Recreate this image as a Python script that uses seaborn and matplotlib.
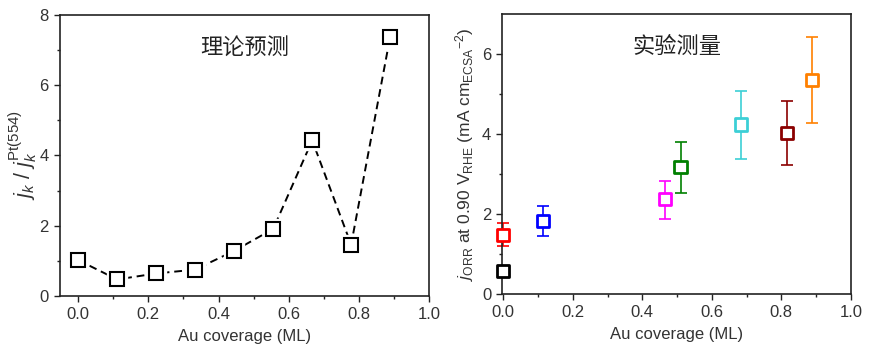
import numpy as np
import pandas as pd
import matplotlib
matplotlib.use("Agg")
import matplotlib.pyplot as plt
import seaborn as sns

# ---- data (left: theory) ----
theory_x = [0.0, 0.111, 0.222, 0.333, 0.444, 0.556, 0.667, 0.778, 0.889]
theory_y = [1.02, 0.47, 0.64, 0.75, 1.28, 1.91, 4.43, 1.46, 7.37]

# ---- data (right: experiment) ----
exp_x = [0.0, 0.0, 0.114, 0.465, 0.51, 0.684, 0.817, 0.889]
exp_y = [0.56, 1.48, 1.83, 2.37, 3.18, 4.24, 4.03, 5.36]
exp_lo = [0.56, 1.185, 1.46, 1.88, 2.53, 3.38, 3.22, 4.28]
exp_hi = [0.56, 1.785, 2.19, 2.83, 3.81, 5.08, 4.84, 6.44]
exp_has_err = [False, True, True, True, True, True, True, True]
exp_colors = ["#000000", "#FF0000", "#0000FF", "#FF00FF", "#008000", "#3CCFD6", "#8B0000", "#FF8000"]

sns.set_theme(style="white")
plt.rcParams["font.family"] = ["Liberation Sans", "Noto Sans CJK SC", "DejaVu Sans"]
plt.rcParams["mathtext.fontset"] = "custom"
plt.rcParams["mathtext.rm"] = "Liberation Sans"
plt.rcParams["mathtext.it"] = "Liberation Sans:italic"
plt.rcParams["mathtext.bf"] = "Liberation Sans:bold"

fig = plt.figure(figsize=(8.69, 3.57), dpi=100)
ax1 = fig.add_axes([0.069, 0.171, 0.4247, 0.787])
ax2 = fig.add_axes([0.578, 0.177, 0.401, 0.783])

for ax in (ax1, ax2):
    for s in ax.spines.values():
        s.set_visible(True)
        s.set_color("#222222")
        s.set_linewidth(1.2)
    ax.tick_params(axis="both", which="major", direction="out", length=4, width=1,
                   labelsize=12, colors="#222222", labelcolor="#333333",
                   bottom=True, left=True, top=False, right=False, pad=4)
    ax.tick_params(axis="both", which="minor", direction="out", length=2.5, width=1,
                   colors="#222222", bottom=True, left=True, top=False, right=False)
    ax.set_xlim(-0.052 if ax is ax1 else -0.003, 1.0)
    ax.set_xticks([0.0, 0.2, 0.4, 0.6, 0.8, 1.0])
    ax.set_xticklabels(["0.0", "0.2", "0.4", "0.6", "0.8", "1.0"])
    ax.set_xticks(np.arange(0.1, 1.0, 0.2), minor=True)
    ax.grid(False)

# ---- left panel ----
df_t = pd.DataFrame({"x": theory_x, "y": theory_y})
sns.lineplot(data=df_t, x="x", y="y", ax=ax1, color="black", linewidth=1.4,
             linestyle=(0, (4, 2.5)), zorder=1)
ax1.plot(theory_x, theory_y, linestyle="none", marker="s", markersize=14,
         markerfacecolor="white", markeredgecolor="white", zorder=2)
ax1.plot(theory_x, theory_y, linestyle="none", marker="s", markersize=9.5,
         markerfacecolor="white", markeredgecolor="black", markeredgewidth=1.5, zorder=3)
ax1.set_ylim(0, 8)
ax1.set_yticks([0, 2, 4, 6, 8])
ax1.set_yticks([1, 3, 5, 7], minor=True)
ax1.set_xlabel("Au coverage (ML)", fontsize=12, color="#333333", labelpad=5)
ax1.set_ylabel(r"$j_k$ / $j_k^{\mathrm{Pt(554)}}$", fontsize=15.5, color="#333333", labelpad=0)
ax1.text(0.5, 0.885, "理论预测", transform=ax1.transAxes, fontsize=16,
         family=["Noto Sans CJK SC"], ha="center", va="center", color="#222222")

# ---- right panel ----
df_e = pd.DataFrame({"x": exp_x, "y": exp_y, "c": [str(i) for i in range(len(exp_x))]})
for i in range(len(exp_x)):
    if exp_has_err[i]:
        ax2.errorbar(exp_x[i], exp_y[i],
                     yerr=[[exp_y[i] - exp_lo[i]], [exp_hi[i] - exp_y[i]]],
                     fmt="none", ecolor=exp_colors[i], elinewidth=1.2,
                     capsize=4.5, capthick=1.2, zorder=2, clip_on=False)
sns.scatterplot(data=df_e, x="x", y="y", hue="c", palette=exp_colors, marker="s",
                s=75, linewidth=2.0, legend=False, ax=ax2, zorder=3, clip_on=False)
coll = ax2.collections[-1]
coll.set_facecolor("white")
coll.set_edgecolors(exp_colors)
coll.set_clip_on(False)
ax2.set_ylim(0, 7)
ax2.set_yticks([0, 2, 4, 6])
ax2.set_yticks([1, 3, 5], minor=True)
ax2.set_xlabel("Au coverage (ML)", fontsize=12, color="#333333", labelpad=5)
ax2.set_ylabel(r"$j_{\mathrm{ORR}}$ at 0.90 V$_{\mathrm{RHE}}$ (mA cm$_{\mathrm{ECSA}}$$^{-2}$)",
               fontsize=12.5, color="#333333", labelpad=4)
ax2.text(0.5, 0.885, "实验测量", transform=ax2.transAxes, fontsize=16,
         family=["Noto Sans CJK SC"], ha="center", va="center", color="#222222")

fig.savefig("out.png", dpi=100)
